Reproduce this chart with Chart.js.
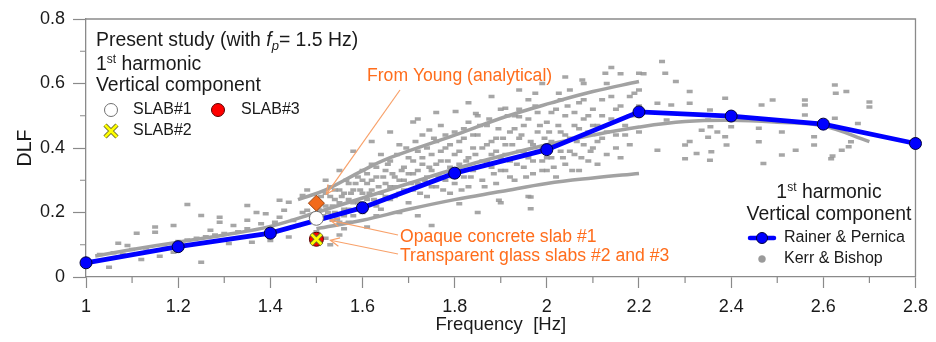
<!DOCTYPE html>
<html><head><meta charset="utf-8">
<script src="https://cdn.jsdelivr.net/npm/chart.js@4/dist/chart.umd.min.js"></script>
<style>html,body{margin:0;padding:0;background:#fff}#wrap{width:936px;height:342px;position:relative}</style>
</head><body><div id="wrap"><canvas id="c" width="936" height="342"></canvas></div>
<script>
// ---------- data ----------
const frequencies = [1.0, 1.2, 1.4, 1.6, 1.8, 2.0, 2.2, 2.4, 2.6, 2.8];
const rainerPernicaDLF = [0.044, 0.094, 0.136, 0.215, 0.322, 0.395, 0.512, 0.499, 0.474, 0.414];

const studyFrequency = 1.5;
const youngDLF = 0.229;
const slab1DLF = 0.182;
const slab2DLF = 0.117;
const slab3DLF = 0.117;

const xTickValues = [1, 1.2, 1.4, 1.6, 1.8, 2, 2.2, 2.4, 2.6, 2.8];
const yTickValues = [0, 0.2, 0.4, 0.6, 0.8];

// Kerr & Bishop trend bands (gray curves)
const kerrUpperCurve = [[1.46,0.24],[1.52,0.27],[1.6,0.33],[1.66,0.37],[1.8,0.44],[1.91,0.497],[2.01,0.54],[2.1,0.575],[2.2,0.606]];
const kerrMiddleCurve = [[1.02,0.065],[1.1,0.085],[1.2,0.108],[1.3,0.13],[1.4,0.157],[1.5,0.2],[1.6,0.245],[1.7,0.29],[1.8,0.335],[1.9,0.375],[2.0,0.41],[2.1,0.44],[2.2,0.465],[2.3,0.482],[2.4,0.486],[2.5,0.48],[2.6,0.468],[2.7,0.42]];
const kerrLowerCurve = [[1.5,0.15],[1.6,0.176],[1.7,0.21],[1.8,0.24],[1.9,0.265],[2.0,0.29],[2.1,0.307],[2.2,0.321]];

// Kerr & Bishop scattered measurements
const kerrPoints = [
 [1.03,0.07],[1.05,0.03],[1.06,0.075],[1.07,0.105],[1.08,0.07],[1.09,0.098],[1.1,0.085],[1.11,0.136],[1.12,0.054],[1.13,0.09],
 [1.15,0.155],[1.15,0.139],[1.16,0.064],[1.17,0.1],[1.19,0.16],[1.19,0.077],[1.2,0.11],[1.22,0.225],[1.22,0.115],[1.24,0.12],
 [1.25,0.191],[1.25,0.046],[1.26,0.125],[1.27,0.145],[1.28,0.13],[1.29,0.185],[1.29,0.17],[1.3,0.135],[1.31,0.104],[1.32,0.16],
 [1.33,0.14],[1.35,0.222],[1.35,0.176],[1.35,0.15],[1.36,0.108],[1.37,0.2],[1.38,0.165],[1.39,0.196],[1.4,0.113],[1.41,0.17],
 [1.42,0.238],[1.42,0.185],[1.43,0.207],[1.44,0.232],[1.44,0.124],[1.45,0.175],[1.46,0.16],[1.47,0.253],[1.47,0.2],[1.48,0.207],
 [1.49,0.185],[1.5,0.23],[1.5,0.14],[1.52,0.12],[1.53,0.1],[1.48,0.27],[1.52,0.3],[1.535,0.176],[1.61,0.155],[1.55,0.13],
 [1.52,0.22],[1.53,0.25],[1.54,0.2],[1.54,0.27],[1.55,0.23],[1.55,0.17],[1.56,0.26],[1.56,0.21],[1.57,0.29],[1.57,0.24],
 [1.58,0.19],[1.58,0.27],[1.59,0.31],[1.59,0.23],[1.6,0.26],[1.6,0.2],[1.6,0.33],[1.61,0.29],[1.61,0.24],[1.62,0.35],
 [1.62,0.27],[1.63,0.22],[1.63,0.31],[1.64,0.26],[1.64,0.38],[1.65,0.29],[1.65,0.33],[1.66,0.24],[1.66,0.36],[1.67,0.28],
 [1.67,0.31],[1.68,0.41],[1.68,0.26],[1.69,0.34],[1.69,0.3],[1.7,0.37],[1.7,0.23],[1.62,0.42],[1.66,0.45],[1.58,0.39],
 [1.55,0.33],[1.71,0.32],[1.71,0.27],[1.72,0.39],[1.72,0.29],[1.73,0.35],[1.73,0.44],[1.74,0.31],[1.74,0.25],[1.75,0.38],
 [1.75,0.33],[1.76,0.28],[1.76,0.42],[1.77,0.36],[1.77,0.47],[1.78,0.3],[1.78,0.4],[1.79,0.34],[1.79,0.26],[1.8,0.38],
 [1.8,0.29],[1.72,0.49],[1.76,0.51],[1.81,0.35],[1.81,0.42],[1.82,0.31],[1.82,0.46],[1.83,0.37],[1.83,0.28],[1.84,0.4],
 [1.84,0.33],[1.85,0.44],[1.85,0.5],[1.86,0.36],[1.86,0.3],[1.87,0.41],[1.87,0.47],[1.88,0.34],[1.88,0.38],[1.89,0.43],
 [1.89,0.29],[1.9,0.37],[1.9,0.52],[1.83,0.54],[1.88,0.56],[1.91,0.41],[1.91,0.33],[1.92,0.45],[1.92,0.36],[1.93,0.5],
 [1.93,0.3],[1.94,0.39],[1.94,0.43],[1.95,0.34],[1.95,0.47],[1.96,0.37],[1.96,0.55],[1.97,0.41],[1.97,0.32],[1.98,0.45],
 [1.98,0.51],[1.99,0.36],[1.99,0.4],[2.0,0.48],[2.0,0.33],[1.94,0.58],[1.99,0.6],[2.01,0.42],[2.01,0.37],[2.02,0.52],
 [2.02,0.31],[2.03,0.45],[2.03,0.39],[2.04,0.5],[2.04,0.35],[2.05,0.58],[2.05,0.43],[2.06,0.38],[2.06,0.47],[2.07,0.33],
 [2.07,0.54],[2.08,0.41],[2.08,0.49],[2.09,0.36],[2.09,0.45],[2.1,0.52],[2.1,0.4],[2.04,0.62],[2.08,0.6],[2.11,0.47],
 [2.11,0.35],[2.12,0.55],[2.12,0.43],[2.13,0.38],[2.13,0.6],[2.14,0.49],[2.15,0.44],[2.15,0.52],[2.16,0.37],[2.16,0.63],
 [2.17,0.47],[2.18,0.56],[2.18,0.41],[2.19,0.5],[2.2,0.45],[2.2,0.58],[2.14,0.65],[2.21,0.63],
 [1.802,0.513],[1.846,0.507],[1.91,0.523],[1.975,0.57],[2.026,0.57],[2.077,0.611],[2.127,0.632],[2.2,0.632],[1.71,0.481],[1.745,0.456],[1.94,0.497],
 [1.965,0.248],[1.965,0.212],[1.896,0.238],[1.96,0.25],[1.81,0.227],[1.72,0.19],[1.75,0.16],[1.85,0.2],[1.9,0.23],
 [2.25,0.668],[2.257,0.632],[2.28,0.606],[2.31,0.575],[2.31,0.539],[2.387,0.554],[2.354,0.518],[2.24,0.539],[2.27,0.533],[2.336,0.455],
 [2.35,0.433],[2.31,0.42],[2.30,0.409],[2.39,0.409],[2.357,0.388],[2.325,0.383],[2.30,0.367],[2.354,0.362],[2.24,0.393],[2.40,0.466],
 [2.46,0.461],[2.46,0.419],[2.49,0.549],[2.466,0.533],[2.51,0.45],[2.51,0.378],[2.47,0.352],[2.54,0.393],[2.56,0.549],[2.56,0.533],
 [2.625,0.595],[2.627,0.57],[2.65,0.575],[2.56,0.502],[2.625,0.492],[2.675,0.476],[2.58,0.435],[2.58,0.409],[2.62,0.375],[2.64,0.393],
 [2.655,0.404],[2.70,0.543],[2.70,0.527],[2.66,0.419],[2.617,0.367],[2.26,0.487],[2.35,0.487],[2.355,0.466],[2.37,0.45],[2.387,0.435],
 [1.505,0.21],[1.51,0.25],[1.515,0.19],[1.52,0.26],[1.525,0.2],[1.53,0.28],[1.535,0.22],[1.54,0.24],[1.545,0.18],[1.55,0.27],
 [1.555,0.25],[1.56,0.19],[1.565,0.3],[1.57,0.21],[1.575,0.26],[1.58,0.23],[1.585,0.29],[1.59,0.21],[1.595,0.27],[1.6,0.3],
 [1.605,0.22],[1.61,0.32],[1.615,0.26],[1.62,0.3],[1.625,0.24],[1.63,0.34],[1.635,0.28],[1.64,0.21],[1.645,0.31],[1.65,0.25],
 [1.57,0.17],[1.63,0.19],[1.68,0.2],[1.56,0.15],
 [1.655,0.35],[1.66,0.28],[1.665,0.32],[1.67,0.25],[1.675,0.38],[1.68,0.3],[1.685,0.33],[1.69,0.27],[1.695,0.4],[1.7,0.32],
 [1.705,0.29],[1.71,0.36],[1.715,0.42],[1.72,0.33],[1.725,0.26],[1.73,0.37],[1.735,0.3],[1.74,0.4],[1.745,0.34],[1.75,0.28],
 [1.755,0.43],[1.76,0.35],[1.765,0.31],[1.77,0.39],[1.775,0.27],[1.78,0.44],[1.785,0.36],[1.79,0.41],[1.795,0.31],[1.8,0.45],
 [1.805,0.33],[1.81,0.39],[1.815,0.27],[1.82,0.43],[1.825,0.36],[1.83,0.48],[1.835,0.31],[1.84,0.44],[1.845,0.38],[1.85,0.34],
 [1.855,0.47],[1.86,0.4],[1.865,0.28],[1.87,0.36],[1.875,0.49],[1.88,0.42],[1.885,0.32],[1.89,0.39],[1.895,0.46],[1.9,0.33],
 [1.905,0.43],[1.91,0.38],[1.915,0.5],[1.92,0.31],[1.925,0.41],[1.93,0.46],[1.935,0.35],[1.94,0.52],[1.945,0.44],[1.95,0.39],
 [1.955,0.31],[1.96,0.49],[1.965,0.42],[1.97,0.36],[1.975,0.53],[1.98,0.39],[1.985,0.47],[1.99,0.33],[1.995,0.43],[2.0,0.37],
 [2.005,0.45],[2.01,0.51],[2.015,0.34],[2.02,0.41],[2.025,0.47],[2.03,0.55],[2.035,0.37],[2.04,0.44],[2.045,0.53],[2.05,0.39],
 [2.055,0.33],[2.06,0.51],[2.065,0.42],[2.07,0.46],[2.075,0.37],[2.08,0.55],[2.085,0.44],[2.09,0.5],[2.095,0.39],[2.1,0.47],
 [2.11,0.42],[2.12,0.5],[2.13,0.45],[2.14,0.56],[2.15,0.4],[2.16,0.53],[2.17,0.44],[2.18,0.5],[2.19,0.57],[2.2,0.53]
];

// ---------- chart ----------
const FONT = "'Liberation Sans', Arial, Helvetica, sans-serif";
const ORANGE = '#ff6d1c';
const ARROW = '#f8a16a';
const AXISC = '#8a8a8a';
const toXY = a => a.map(p => ({x: p[0], y: p[1]}));

function arrow(ctx, x1, y1, x2, y2) {
  ctx.save();
  ctx.strokeStyle = ARROW; ctx.lineWidth = 1.2;
  ctx.beginPath(); ctx.moveTo(x1, y1); ctx.lineTo(x2, y2); ctx.stroke();
  const a = Math.atan2(y2 - y1, x2 - x1), L = 10, w = 0.45;
  ctx.beginPath();
  ctx.moveTo(x2 - L * Math.cos(a - w), y2 - L * Math.sin(a - w));
  ctx.lineTo(x2, y2);
  ctx.lineTo(x2 - L * Math.cos(a + w), y2 - L * Math.sin(a + w));
  ctx.stroke();
  ctx.restore();
}
function txt(ctx, s, x, y, size, o = {}) {
  ctx.save();
  ctx.font = (o.italic ? 'italic ' : '') + size + 'px ' + FONT;
  ctx.fillStyle = o.color || '#1a1a1a';
  ctx.textAlign = o.align || 'left';
  ctx.textBaseline = o.base || 'alphabetic';
  ctx.fillText(s, x, y);
  const w = ctx.measureText(s).width;
  ctx.restore();
  return w;
}
function measure(ctx, s, size) {
  ctx.save(); ctx.font = size + 'px ' + FONT; const w = ctx.measureText(s).width; ctx.restore(); return w;
}
function drawX(ctx, x, y, r) {
  ctx.save();
  ctx.lineCap = 'butt';
  ctx.strokeStyle = '#6b6b30'; ctx.lineWidth = 4.5;
  ctx.beginPath(); ctx.moveTo(x - r, y - r); ctx.lineTo(x + r, y + r); ctx.moveTo(x + r, y - r); ctx.lineTo(x - r, y + r); ctx.stroke();
  ctx.strokeStyle = '#ffff00'; ctx.lineWidth = 2.6;
  ctx.beginPath(); ctx.moveTo(x - r, y - r); ctx.lineTo(x + r, y + r); ctx.moveTo(x + r, y - r); ctx.lineTo(x - r, y + r); ctx.stroke();
  ctx.restore();
}
function circle(ctx, x, y, r, fill, stroke, lw) {
  ctx.save(); ctx.beginPath(); ctx.arc(x, y, r, 0, Math.PI * 2);
  ctx.fillStyle = fill; ctx.fill(); ctx.lineWidth = lw || 1; ctx.strokeStyle = stroke; ctx.stroke(); ctx.restore();
}

const decorPlugin = {
  id: 'decor',
  beforeDatasetsDraw(chart) {
    const {ctx, chartArea: ca, scales} = chart;
    ctx.save();
    ctx.strokeStyle = AXISC; ctx.lineWidth = 1.3;
    ctx.beginPath();
    ctx.moveTo(ca.left, ca.top); ctx.lineTo(ca.right, ca.top); ctx.lineTo(ca.right, ca.bottom);
    ctx.stroke();
    // minor ticks midway between major ticks
    ctx.lineWidth = 1.2;
    const xt = scales.x.ticks.map(t => t.value), yt = scales.y.ticks.map(t => t.value);
    ctx.beginPath();
    for (let i = 0; i < xt.length - 1; i++) {
      const px = scales.x.getPixelForValue((xt[i] + xt[i + 1]) / 2);
      ctx.moveTo(px, ca.bottom); ctx.lineTo(px, ca.bottom + 6);
    }
    for (let i = 0; i < yt.length - 1; i++) {
      const py = scales.y.getPixelForValue((yt[i] + yt[i + 1]) / 2);
      ctx.moveTo(ca.left, py); ctx.lineTo(ca.left - 6, py);
    }
    ctx.stroke();
    ctx.restore();
  },
  afterDatasetsDraw(chart) {
    const {ctx, scales} = chart;
    const T = 19.4;
    // --- top-left block ---
    let x = 96, y = 46;
    x += txt(ctx, 'Present study (with ', x, y, T);
    x += txt(ctx, 'f', x, y, T, {italic: true});
    x += txt(ctx, 'p', x, y + 4, 13, {italic: true});
    txt(ctx, '= 1.5 Hz)', x, y, T);
    x = 96; y = 70;
    x += txt(ctx, '1', x, y, T);
    x += txt(ctx, 'st', x, y - 7, 12);
    txt(ctx, ' harmonic', x, y, T);
    txt(ctx, 'Vertical component', 96, 91, T);
    circle(ctx, 111, 110, 6.5, '#ffffff', '#707070', 1);
    txt(ctx, 'SLAB#1', 133, 110, 16, {base: 'middle'});
    circle(ctx, 218, 110, 6.5, '#ff0000', '#5a0000', 1);
    txt(ctx, 'SLAB#3', 241, 110, 16, {base: 'middle'});
    drawX(ctx, 111, 131, 6);
    txt(ctx, 'SLAB#2', 133, 131, 16, {base: 'middle'});

    // --- bottom-right legend ---
    const w1 = measure(ctx, '1', T), w2 = measure(ctx, 'st', 12), w3 = measure(ctx, ' harmonic', T);
    let sx = 829 - (w1 + w2 + w3) / 2;
    sx += txt(ctx, '1', sx, 198, T);
    sx += txt(ctx, 'st', sx, 191, 12);
    txt(ctx, ' harmonic', sx, 198, T);
    txt(ctx, 'Vertical component', 829, 220, T, {align: 'center'});
    ctx.save();
    ctx.strokeStyle = '#0000ff'; ctx.lineWidth = 4.5; ctx.lineCap = 'round';
    ctx.beginPath(); ctx.moveTo(750, 238); ctx.lineTo(774, 238); ctx.stroke(); ctx.restore();
    circle(ctx, 762, 238, 5.5, '#0000ff', '#00003a', 1);
    txt(ctx, 'Rainer & Pernica', 784, 238, 16, {base: 'middle'});
    circle(ctx, 762, 259, 3.5, '#9a9a9a', '#9a9a9a', 0.5);
    txt(ctx, 'Kerr & Bishop', 784, 259, 16, {base: 'middle'});

    // --- annotations ---
    const px = scales.x.getPixelForValue(studyFrequency);
    const pYoung = scales.y.getPixelForValue(youngDLF);
    const pS1 = scales.y.getPixelForValue(slab1DLF);
    const pS2 = scales.y.getPixelForValue(slab2DLF);
    txt(ctx, 'From Young (analytical)', 367, 81, 17.6, {color: ORANGE});
    arrow(ctx, 400, 90, px + 10, pYoung - 9);
    txt(ctx, 'Opaque concrete slab #1', 400, 242, 17.6, {color: ORANGE});
    arrow(ctx, 398, 235, px + 14, pS1 + 2);
    txt(ctx, 'Transparent glass slabs #2 and #3', 400, 261, 17.6, {color: ORANGE});
    arrow(ctx, 398, 254, px + 14, pS2 + 1);
  }
};

new Chart(document.getElementById('c'), {
  type: 'scatter',
  data: {
    datasets: [
      { label: 'SLAB#2', data: [{x: studyFrequency, y: slab2DLF}], pointStyle: 'crossRot', pointRadius: 7,
        borderColor: '#ffff00', borderWidth: 2.6, showLine: false, order: 1 },
      { label: 'SLAB#2 outline', data: [{x: studyFrequency, y: slab2DLF}], pointStyle: 'crossRot', pointRadius: 7.5,
        borderColor: '#6b6b30', borderWidth: 4.5, showLine: false, order: 2 },
      { label: 'SLAB#3', data: [{x: studyFrequency, y: slab3DLF}], pointStyle: 'circle', pointRadius: 7,
        backgroundColor: '#ff0000', borderColor: '#5a0000', borderWidth: 1, order: 3 },
      { label: 'SLAB#1', data: [{x: studyFrequency, y: slab1DLF}], pointStyle: 'circle', pointRadius: 7,
        backgroundColor: '#ffffff', borderColor: '#707070', borderWidth: 1, order: 4 },
      { label: 'Young', data: [{x: studyFrequency, y: youngDLF}], pointStyle: 'rectRot', pointRadius: 8,
        backgroundColor: '#f26a1b', borderColor: '#9a3f0a', borderWidth: 1, order: 5 },
      { label: 'Rainer & Pernica', data: frequencies.map((f, i) => ({x: f, y: rainerPernicaDLF[i]})),
        showLine: true, borderColor: '#0000ff', borderWidth: 4.8, pointRadius: 6, pointBackgroundColor: '#0000ff',
        pointBorderColor: '#00003a', pointBorderWidth: 1, clip: 10, order: 6 },
      { label: 'Kerr upper', data: toXY(kerrUpperCurve), showLine: true, tension: 0.4, borderColor: '#a2a2a2',
        borderWidth: 3.5, pointRadius: 0, order: 8 },
      { label: 'Kerr middle', data: toXY(kerrMiddleCurve), showLine: true, tension: 0.4, borderColor: '#a2a2a2',
        borderWidth: 3.5, pointRadius: 0, order: 8 },
      { label: 'Kerr lower', data: toXY(kerrLowerCurve), showLine: true, tension: 0.4, borderColor: '#a2a2a2',
        borderWidth: 3.5, pointRadius: 0, order: 8 },
      { label: 'Kerr & Bishop', data: toXY(kerrPoints), pointStyle: 'line', pointRadius: 3,
        borderColor: 'rgba(150,150,150,0.85)', borderWidth: 3.5, order: 10 }
    ]
  },
  options: {
    responsive: false, devicePixelRatio: 1, animation: false,
    layout: {padding: {top: 19, right: 17, left: 0, bottom: 0}},
    plugins: {legend: {display: false}, tooltip: {enabled: false}},
    scales: {
      x: {
        type: 'linear', min: 1, max: 2.8,
        afterFit(s) { s.height = 65; },
        afterBuildTicks(s) { s.ticks = xTickValues.map(v => ({value: v})); },
        ticks: {color: '#1a1a1a', font: {family: FONT, size: 18}, padding: 8,
          callback: v => String(+v.toFixed(1))},
        grid: {drawOnChartArea: false, drawTicks: true, tickLength: 11, tickColor: AXISC, tickWidth: 1.2},
        border: {display: true, color: AXISC, width: 1.3},
        title: {display: true, text: 'Frequency  [Hz]', color: '#1a1a1a', font: {family: FONT, size: 18.5}, padding: {top: 0, bottom: 6}}
      },
      y: {
        min: 0, max: 0.8,
        afterFit(s) { s.width = 86; },
        afterBuildTicks(s) { s.ticks = yTickValues.map(v => ({value: v})); },
        ticks: {color: '#1a1a1a', font: {family: FONT, size: 18}, padding: 8,
          callback: v => String(+v.toFixed(1))},
        grid: {drawOnChartArea: false, drawTicks: true, tickLength: 13, tickColor: AXISC, tickWidth: 1.2},
        border: {display: true, color: AXISC, width: 1.3},
        title: {display: true, text: 'DLF', color: '#1a1a1a', font: {family: FONT, size: 19.5}, padding: {top: 14, bottom: 0}}
      }
    }
  },
  plugins: [decorPlugin]
});
</script></body></html>
